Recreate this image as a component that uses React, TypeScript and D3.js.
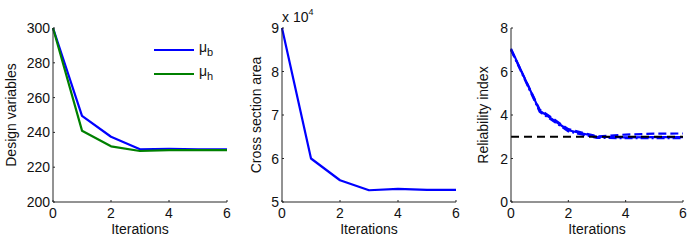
import React from "react";
import * as d3 from "d3";

const iterations = [0, 1, 2, 3, 4, 5, 6];
const muB = [300, 249.5, 237.5, 230.3, 230.6, 230.3, 230.3];
const muH = [300, 241, 232, 229.3, 229.8, 229.8, 229.8];
const area = [9.0, 6.0, 5.5, 5.27, 5.3, 5.28, 5.28];
const beta1 = [7.05, 4.2, 3.3, 3.0, 2.97, 2.98, 2.98];
const beta2 = [7.0, 4.25, 3.35, 3.02, 3.1, 3.14, 3.15];
const beta3 = [7.0, 4.15, 3.25, 2.95, 2.93, 2.94, 2.94];
const targetBeta = 3;
const xTicks = [0, 2, 4, 6];
const yTicks1 = [200, 220, 240, 260, 280, 300];
const yTicks2 = [5, 6, 7, 8, 9];
const yTicks3 = [0, 2, 4, 6, 8];

const FONT = "Liberation Sans, Arial, sans-serif";
const TOP = 28;
const BOTTOM = 202;
const AXIS = "#262626";

type Series = { values: number[]; color: string; dash?: string };

function Panel(props: {
  left: number; right: number; yDomain: [number, number]; yTicks: number[];
  ylabel: string; ylabelX: number; series: Series[]; extra?: (x: any, y: any) => React.ReactNode;
}) {
  const { left, right, yDomain, yTicks, ylabel, ylabelX, series, extra } = props;
  const x = d3.scaleLinear().domain([0, 6]).range([left, right]);
  const y = d3.scaleLinear().domain(yDomain).range([BOTTOM, TOP]);
  const line = d3.line<number>().x((_, i) => x(iterations[i])).y((d) => y(d));
  return (
    <g>
      {series.map((s, i) => (
        <path key={i} d={line(s.values) || ""} fill="none" stroke={s.color} strokeWidth={2.2}
          strokeDasharray={s.dash} strokeLinejoin="round" />
      ))}
      {extra && extra(x, y)}
      <line x1={left} x2={right} y1={BOTTOM} y2={BOTTOM} stroke={AXIS} strokeWidth={1} />
      <line x1={left} x2={left} y1={TOP} y2={BOTTOM} stroke={AXIS} strokeWidth={1} />
      {xTicks.map((t) => (
        <g key={t}>
          <line x1={x(t)} x2={x(t)} y1={BOTTOM} y2={BOTTOM - 2} stroke={AXIS} />
          <text x={x(t)} y={BOTTOM + 16} textAnchor="middle" fontSize={14} fontFamily={FONT} fill="#111">{t}</text>
        </g>
      ))}
      {yTicks.map((t) => (
        <g key={t}>
          <line x1={left} x2={left + 2} y1={y(t)} y2={y(t)} stroke={AXIS} />
          <text x={left - 3} y={y(t) + 5} textAnchor="end" fontSize={14} fontFamily={FONT} fill="#111">{t}</text>
        </g>
      ))}
      <text x={(left + right) / 2} y={234} textAnchor="middle" fontSize={14} fontFamily={FONT} fill="#111">Iterations</text>
      <text transform={`translate(${ylabelX},${(TOP + BOTTOM) / 2}) rotate(-90)`} textAnchor="middle"
        fontSize={14} fontFamily={FONT} fill="#111">{ylabel}</text>
    </g>
  );
}

export default function App() {
  return (
    <svg width={698} height={243} style={{ position: "absolute", left: 0, top: 0, background: "#fff" }}>
      <rect width={698} height={243} fill="#fff" />
      <Panel left={53} right={227} yDomain={[200, 300]} yTicks={yTicks1} ylabel="Design variables" ylabelX={16}
        series={[{ values: muB, color: "#0000ff" }, { values: muH, color: "#008000" }]}
        extra={() => (
          <g>
            <line x1={154} x2={194} y1={50} y2={50} stroke="#0000ff" strokeWidth={2.2} />
            <text x={199} y={52} fontSize={14} fontFamily={FONT} fill="#111">μ<tspan fontSize={11} dy={4}>b</tspan></text>
            <line x1={154} x2={194} y1={74} y2={74} stroke="#008000" strokeWidth={2.2} />
            <text x={199} y={76} fontSize={14} fontFamily={FONT} fill="#111">μ<tspan fontSize={11} dy={4}>h</tspan></text>
          </g>
        )} />
      <Panel left={282} right={456} yDomain={[5, 9]} yTicks={yTicks2} ylabel="Cross section area" ylabelX={261}
        series={[{ values: area, color: "#0000ff" }]}
        extra={() => (
          <text x={282} y={22} fontSize={14} fontFamily={FONT} fill="#111">x 10<tspan fontSize={9} dy={-7}>4</tspan></text>
        )} />
      <Panel left={511} right={683} yDomain={[0, 8]} yTicks={yTicks3} ylabel="Reliability index" ylabelX={488}
        series={[
          { values: beta1, color: "#0000ff" },
          { values: beta2, color: "#0000ff", dash: "8,4" },
          { values: beta3, color: "#0000ff", dash: "8,3,2,3" },
        ]}
        extra={(x, y) => (
          <line x1={x(0)} x2={x(6)} y1={y(targetBeta)} y2={y(targetBeta)} stroke="#000" strokeWidth={2.2}
            strokeDasharray="8,5" />
        )} />
    </svg>
  );
}
